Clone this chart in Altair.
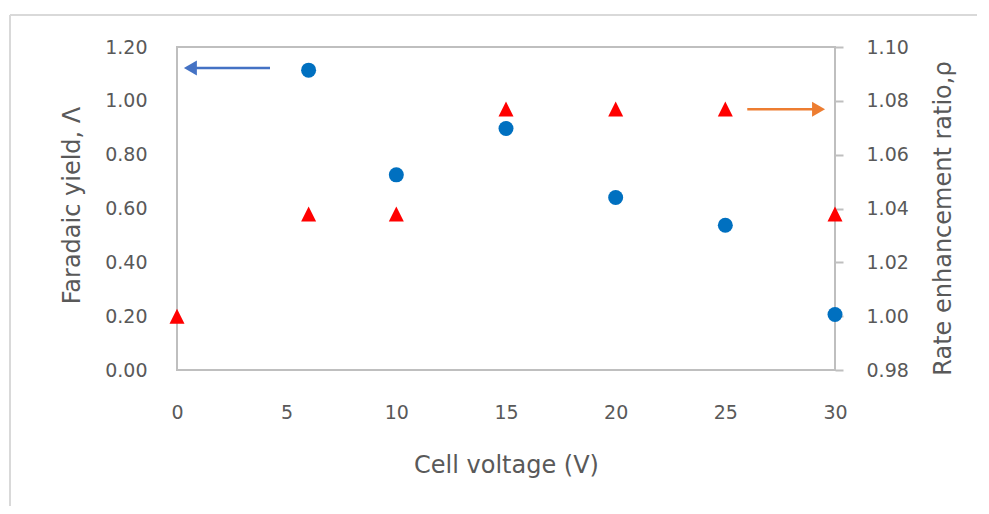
import altair as alt
import pandas as pd

# ---- data ----
voltage_yield = [6, 10, 15, 20, 25, 30]
faradaic_yield = [1.114, 0.725, 0.897, 0.641, 0.538, 0.206]

voltage_ratio = [0, 6, 10, 15, 20, 25, 30]
rate_ratio = [1.000, 1.038, 1.038, 1.077, 1.077, 1.077, 1.038]

x_ticks = [0, 5, 10, 15, 20, 25, 30]
yl_ticks = [0.0, 0.2, 0.4, 0.6, 0.8, 1.0, 1.2]
yr_ticks = [0.98, 1.00, 1.02, 1.04, 1.06, 1.08, 1.10]

# annotation arrows (data coordinates)
blue_arrow_x = [4.24, 0.61]     # tail, head centre
blue_arrow_y = 1.122
orange_arrow_x = [26.0, 29.25]  # tail, head centre
orange_arrow_y = 1.0769

FONT = "DejaVu Sans"
TXT = "#595959"
GRID = "#BFBFBF"
LAB = 19
TIT = 24

W, H = 658, 323

x_enc = alt.X("x:Q", scale=alt.Scale(domain=[0, 30], nice=False, zero=False),
              axis=alt.Axis(values=x_ticks, format="d", ticks=False, domain=False, grid=False,
                            labelFlush=False,
                            labelFont=FONT, labelFontSize=LAB, labelColor=TXT, labelPadding=33,
                            title="Cell voltage (V)", titleFont=FONT, titleFontSize=TIT,
                            titleFontWeight="normal", titleColor=TXT, titleBaseline="middle",
                            titleY=95, titleX=W / 2))

yl_enc = alt.Y("yl:Q", scale=alt.Scale(domain=[0, 1.2], nice=False, zero=False),
               axis=alt.Axis(values=yl_ticks, format=".2f", ticks=False, domain=False, grid=False,
                             labelFlush=False,
                             labelFont=FONT, labelFontSize=LAB, labelColor=TXT, labelPadding=30,
                             title="Faradaic yield, Λ", titleFont=FONT, titleFontSize=TIT,
                             titleFontWeight="normal", titleColor=TXT, titleBaseline="middle",
                             titleAngle=270, titleX=-105, titleY=158))

yr_enc = alt.Y("yr:Q", scale=alt.Scale(domain=[0.98, 1.10], nice=False, zero=False),
               axis=alt.Axis(orient="right", values=yr_ticks, format=".2f", ticks=True, tickSize=8,
                             tickColor=GRID, tickWidth=2, domain=False, grid=False,
                             labelFlush=False,
                             labelFont=FONT, labelFontSize=LAB, labelColor=TXT, labelPadding=23,
                             title="Rate enhancement ratio,ρ", titleFont=FONT, titleFontSize=TIT,
                             titleFontWeight="normal", titleColor=TXT, titleBaseline="middle",
                             titleAngle=270, titleX=108, titleY=171))

df_yield = pd.DataFrame({"x": voltage_yield, "yl": faradaic_yield})
df_ratio = pd.DataFrame({"x": voltage_ratio, "yr": rate_ratio})

blue_pts = alt.Chart(df_yield).mark_point(shape="circle", filled=True, size=225, opacity=1,
                                          color="#0070C0").encode(x=x_enc, y=yl_enc)
tri_path = "M0,-1L1,1L-1,1Z"
red_pts = alt.Chart(df_ratio).mark_point(shape=tri_path, filled=True, size=225, opacity=1,
                                         color="#FF0000").encode(x=x_enc, y=yr_enc)

df_ba_line = pd.DataFrame({"x": [blue_arrow_x[0]], "x2": [blue_arrow_x[1]], "yl": [blue_arrow_y]})
df_ba_head = pd.DataFrame({"x": [blue_arrow_x[1]], "yl": [blue_arrow_y]})
blue_line = alt.Chart(df_ba_line).mark_rule(color="#4472C4", strokeWidth=2.5).encode(
    x=x_enc, x2="x2:Q", y=yl_enc)
blue_head = alt.Chart(df_ba_head).mark_point(shape="triangle-left", filled=True, size=225,
                                             opacity=1, color="#4472C4").encode(x=x_enc, y=yl_enc)

df_oa_line = pd.DataFrame({"x": [orange_arrow_x[0]], "x2": [orange_arrow_x[1]], "yr": [orange_arrow_y]})
df_oa_head = pd.DataFrame({"x": [orange_arrow_x[1]], "yr": [orange_arrow_y]})
orange_line = alt.Chart(df_oa_line).mark_rule(color="#ED7D31", strokeWidth=2.5).encode(
    x=x_enc, x2="x2:Q", y=yr_enc)
orange_head = alt.Chart(df_oa_head).mark_point(shape="triangle-right", filled=True, size=225,
                                               opacity=1, color="#ED7D31").encode(x=x_enc, y=yr_enc)

left = alt.layer(blue_line, blue_head, blue_pts)
right = alt.layer(orange_line, orange_head, red_pts)

# outer chart border (decorative)
frame_v = alt.Chart(pd.DataFrame({"a": [0]})).mark_rule(color="#D9D9D9", strokeWidth=2).encode(
    x=alt.value(-167), y=alt.value(-32), y2=alt.value(460))
frame_h = alt.Chart(pd.DataFrame({"a": [0]})).mark_rule(color="#D9D9D9", strokeWidth=2).encode(
    x=alt.value(-167), x2=alt.value(800), y=alt.value(-32))

chart = alt.layer(left, right, frame_v, frame_h).resolve_scale(y="independent").properties(
    width=W, height=H,
    autosize=alt.AutoSizeParams(type="none"),
    padding={"left": 169, "top": 39, "right": 146, "bottom": 136},
    background="white",
).configure_view(stroke=GRID, strokeWidth=2)

chart.save("out.html", embed_options={"renderer": "svg", "actions": False})
